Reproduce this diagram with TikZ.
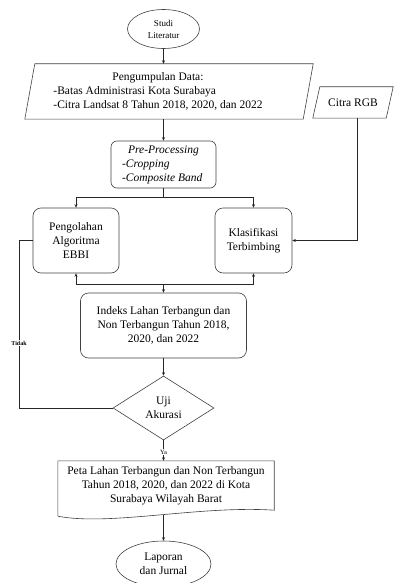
\documentclass[tikz,border=0pt]{standalone}
\usepackage{fontspec}
\setmainfont{Liberation Serif}
\usetikzlibrary{shapes.geometric,arrows.meta}
\begin{document}
\begin{tikzpicture}[x=1pt,y=-1pt,
  mainfont/.style={font=\fontsize{11.5}{13.8}\selectfont},
  box/.style={draw=black!75, line width=0.6pt, rounded corners=8pt, align=center, inner sep=0pt, mainfont},
  ell/.style={draw=black!75, line width=0.6pt, ellipse, inner sep=0pt, align=center, mainfont},
  shapeline/.style={draw=black!75, line width=0.6pt},
  conn/.style={draw=black!85, line width=0.9pt},
  arr/.style={conn, -{Stealth[length=3.5pt,width=3pt]}},
  txt/.style={mainfont, align=center, inner sep=0pt},
  small/.style={fill=white, inner sep=0.8pt, font=\bfseries\fontsize{6}{7}\selectfont},
]
\useasboundingbox (0,0) rectangle (395,583);
% nodes
\node[ell, minimum width=72pt, minimum height=39pt, font=\fontsize{9}{12}\selectfont] (studi) at (163.5,29) {Studi\\Literatur};
\node[txt, minimum width=278pt, minimum height=55pt] (data) at (169,91.5) {};
\draw[shapeline] ([xshift=5pt]data.north west) -- ([xshift=5pt]data.north east) -- ([xshift=-5pt]data.south east) -- ([xshift=-5pt]data.south west) -- cycle;
\node[txt] (datatext) at (158,92) {\begin{tabular}{@{}l@{}}\multicolumn{1}{c}{Pengumpulan Data:}\\-Batas Administrasi Kota Surabaya\\-Citra Landsat 8 Tahun 2018, 2020, dan 2022\end{tabular}};
\node[txt, minimum width=73pt, minimum height=31pt] (rgb) at (353,102.5) {Citra RGB};
\draw[shapeline] ([xshift=3.5pt]rgb.north west) -- ([xshift=3.5pt]rgb.north east) -- ([xshift=-3.5pt]rgb.south east) -- ([xshift=-3.5pt]rgb.south west) -- cycle;
\node[box, minimum width=105pt, minimum height=47pt, rounded corners=6pt] (pre) at (163.5,164.5) {\itshape\begin{tabular}{@{}l@{}}\multicolumn{1}{c}{\itshape Pre-Processing}\\\itshape -Cropping\\\itshape -Composite Band\end{tabular}};
\node[box, minimum width=86pt, minimum height=65pt] (peng) at (76,240.5) {Pengolahan\\Algoritma\\EBBI};
\node[box, minimum width=77pt, minimum height=65pt] (klas) at (253.5,240.5) {Klasifikasi\\Terbimbing};
\node[box, minimum width=166pt, minimum height=65pt] (indeks) at (163.5,325.5) {Indeks Lahan Terbangun dan\\Non Terbangun Tahun 2018,\\2020, dan 2022};
\node[shapeline, diamond, minimum width=101pt, minimum height=64pt, inner sep=0pt, txt] (uji) at (163.5,408) {Uji\\Akurasi};
\node[txt, minimum width=216pt, minimum height=50pt] (doc) at (166,486) {Peta Lahan Terbangun dan Non Terbangun\\Tahun 2018, 2020, dan 2022 di Kota\\Surabaya Wilayah Barat};
\draw[shapeline] ([yshift=-5pt]doc.south west) -- (doc.north west) -- (doc.north east) -- ([yshift=1pt]doc.south east)
  .. controls ([xshift=-74pt,yshift=6pt]doc.south east) and ([xshift=52pt,yshift=-15pt]doc.south west) .. ([yshift=-5pt]doc.south west);
\node[ell, minimum width=95pt, minimum height=46pt] (lap) at (163.5,564) {Laporan\\dan Jurnal};
% connectors
\coordinate (br) at (163.5,197);
\coordinate (jn) at (163.5,284);
\coordinate (tk) at (19,0);
\coordinate (docb) at (163.5,515);
\draw[arr] (studi.south) -- (studi.south |- data.north);
\draw[arr] (pre.north |- data.south) -- (pre.north);
\draw[conn] (pre.south) -- (br);
\draw[arr] (br) -| (peng.north);
\draw[arr] (br) -| (klas.north);
\draw[arr] (jn) -| (peng.south);
\draw[arr] (jn) -| (klas.south);
\draw[arr] (jn) -- (jn |- indeks.north);
\draw[arr] ([xshift=4pt]rgb.south) |- (klas.east);
\draw[arr] (indeks.south) -- (uji.north);
\draw[conn] (uji.west) -- (uji.west -| tk) -- (tk |- peng.west) -- (peng.west);
\node[small] (tidak) at (19,343) {Tidak};
\draw[arr] (uji.south) -- (uji.south |- doc.north);
\node[small, font=\fontsize{6.5}{7}\selectfont] (ya) at (163.5,452) {Ya};
\draw[arr] (docb) -- (lap.north);
\end{tikzpicture}
\end{document}
